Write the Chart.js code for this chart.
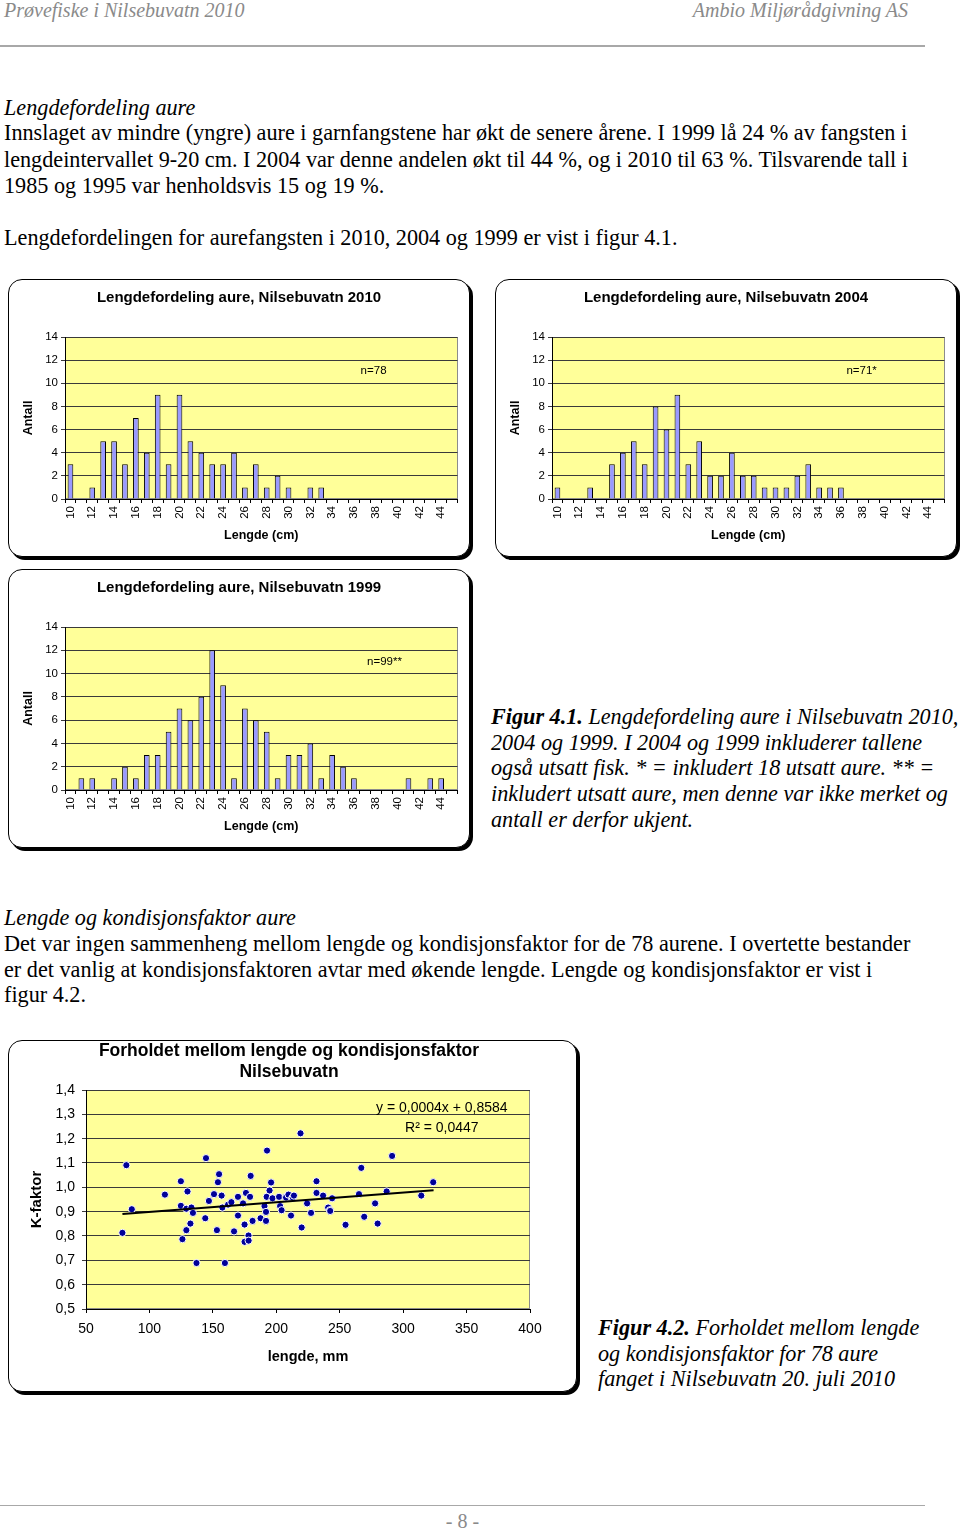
<!DOCTYPE html>
<html><head><meta charset="utf-8">
<script src="https://cdn.jsdelivr.net/npm/chart.js@4.4.1/dist/chart.umd.min.js"></script>
<style>
html,body{margin:0;padding:0;background:#fff}
body{width:960px;height:1531px;position:relative;overflow:hidden;font-family:"Liberation Serif","Times New Roman",serif;}
.t{position:absolute;white-space:nowrap;font-size:22.2px;line-height:26px;color:#000;}
.i{font-style:italic}
.hd{position:absolute;white-space:nowrap;font-size:20px;line-height:24px;color:#8a8a8a;font-style:italic}
.box{position:absolute;border:1px solid #000;border-radius:14px;box-shadow:3px 3px 0 #000;background:#fff;overflow:hidden}
.box canvas{position:absolute;left:0;top:0}
.rule{position:absolute;left:0;width:925px;background:#a8a8a8}
</style></head>
<body>
<div class="hd" style="left:4px;top:-2px">Prøvefiske i Nilsebuvatn 2010</div>
<div class="hd" style="right:52px;top:-2px">Ambio Miljørådgivning AS</div>
<div class="rule" style="top:45px;height:2px"></div>

<div class="t i" style="left:4px;top:95px">Lengdefordeling aure</div>
<div class="t" style="left:4px;top:120px">Innslaget av mindre (yngre) aure i garnfangstene har økt de senere årene. I 1999 lå 24 % av fangsten i</div>
<div class="t" style="left:4px;top:147px">lengdeintervallet 9-20 cm. I 2004 var denne andelen økt til 44 %, og i 2010 til 63 %. Tilsvarende tall i</div>
<div class="t" style="left:4px;top:173px">1985 og 1995 var henholdsvis 15 og 19 %.</div>
<div class="t" style="left:4px;top:225px">Lengdefordelingen for aurefangsten i 2010, 2004 og 1999 er vist i figur 4.1.</div>

<div class="box" style="left:8px;top:279px;width:460px;height:276px"><canvas id="c2010" width="460" height="276"></canvas></div>
<div class="box" style="left:495px;top:279px;width:460px;height:276px"><canvas id="c2004" width="460" height="276"></canvas></div>
<div class="box" style="left:8px;top:569px;width:460px;height:277px"><canvas id="c1999" width="460" height="277"></canvas></div>

<div class="t i" style="left:491px;top:704px"><b>Figur 4.1.</b> Lengdefordeling aure i Nilsebuvatn 2010,</div>
<div class="t i" style="left:491px;top:730px">2004 og 1999. I 2004 og 1999 inkluderer tallene</div>
<div class="t i" style="left:491px;top:755px">også utsatt fisk. * = inkludert 18 utsatt aure. ** =</div>
<div class="t i" style="left:491px;top:781px">inkludert utsatt aure, men denne var ikke merket og</div>
<div class="t i" style="left:491px;top:807px">antall er derfor ukjent.</div>

<div class="t i" style="left:4px;top:905px">Lengde og kondisjonsfaktor aure</div>
<div class="t" style="left:4px;top:931px">Det var ingen sammenheng mellom lengde og kondisjonsfaktor for de 78 aurene. I overtette bestander</div>
<div class="t" style="left:4px;top:957px">er det vanlig at kondisjonsfaktoren avtar med økende lengde. Lengde og kondisjonsfaktor er vist i</div>
<div class="t" style="left:4px;top:982px">figur 4.2.</div>

<div class="box" style="left:8px;top:1040px;width:567px;height:350px"><canvas id="cK" width="567" height="350"></canvas></div>

<div class="t i" style="left:598px;top:1315px"><b>Figur 4.2.</b> Forholdet mellom lengde</div>
<div class="t i" style="left:598px;top:1341px">og kondisjonsfaktor for 78 aure</div>
<div class="t i" style="left:598px;top:1366px">fanget i Nilsebuvatn 20. juli 2010</div>

<div class="rule" style="top:1505px;height:1px"></div>
<div class="hd" style="left:0;width:925px;text-align:center;top:1509px;font-style:normal;font-size:20px">- 8 -</div>

<script>
// ---------- data ----------
const lengthCats = [10,11,12,13,14,15,16,17,18,19,20,21,22,23,24,25,26,27,28,29,30,31,32,33,34,35,36,37,38,39,40,41,42,43,44,45];
const xTickLabels = ['10','12','14','16','18','20','22','24','26','28','30','32','34','36','38','40','42','44'];
const counts2010 = [3,0,1,5,5,3,7,4,9,3,9,5,4,3,3,4,1,3,1,2,1,0,1,1,0,0,0,0,0,0,0,0,0,0,0,0];
const counts2004 = [1,0,0,1,0,3,4,5,3,8,6,9,3,5,2,2,4,2,2,1,1,1,2,3,1,1,1,0,0,0,0,0,0,0,0,0];
const counts1999 = [0,1,1,0,1,2,1,3,3,5,7,6,8,12,9,1,7,6,5,1,3,3,4,1,3,2,1,0,0,0,0,1,0,1,1,0];

const fishLengthMm = [78.7,81.8,86.1,112.2,124.8,124.8,126,130,129.1,129.1,132.3,133.1,134.3,137.1,144,144.6,146.9,150.9,153.2,154,154.9,156.9,157.5,159.5,162,164.6,166.7,169.8,169.8,173.8,175,175,176.1,178.1,178.2,179.3,179.8,181.3,187.6,190.7,191.9,191.9,192.4,192.7,194.7,195.9,197,202.2,203,204.2,207.4,207.7,209.6,211.6,212.5,213,213.9,219.1,220,224.3,227.4,231.7,231.7,236.9,240.9,242.3,242.5,244,254.6,265.2,267,269.3,277.9,279.9,287,291.3,314.3,323.7];
const fishKFactor  = [0.813,1.091,0.910,0.970,1.025,0.924,0.787,0.983,0.912,0.824,0.851,0.917,0.895,0.689,0.873,1.120,0.944,0.972,0.824,1.021,1.054,0.966,0.917,0.689,0.929,0.939,0.819,0.961,0.884,0.934,0.776,0.847,0.977,0.802,0.781,0.961,1.047,0.862,0.873,0.923,0.899,0.862,0.961,1.151,0.987,1.020,0.955,0.961,0.923,0.906,0.961,0.958,0.970,0.884,0.955,0.958,0.966,1.222,0.835,0.934,0.895,1.025,0.977,0.966,0.917,0.906,0.903,0.955,0.846,0.972,1.080,0.879,0.934,0.851,0.983,1.129,0.966,1.021];
const trendLen = [78.7, 324];
const trendK = [0.890, 0.988];
const kTicksMin = 0.5, kTicksMax = 1.4;

// ---------- setup ----------
Chart.defaults.font.family = "'Liberation Sans', Arial, sans-serif";
Chart.defaults.color = '#000';

const plotBg = {
  id: 'plotBg',
  beforeDraw(chart, args, opts) {
    const {ctx, chartArea: a} = chart;
    ctx.save();
    ctx.fillStyle = opts.color || '#FFFF99';
    ctx.fillRect(a.left, a.top, a.width, a.height);
    ctx.strokeStyle = '#8c8c8c';
    ctx.lineWidth = 1;
    ctx.strokeRect(Math.round(a.left) + 0.5, Math.round(a.top) + 0.5, Math.round(a.width) - 1, Math.round(a.height) - 1);
    ctx.restore();
  }
};
const notes = {
  id: 'notes',
  afterDraw(chart, args, opts) {
    if (!opts.items) return;
    const ctx = chart.ctx;
    ctx.save();
    ctx.fillStyle = '#000';
    ctx.textAlign = 'center';
    ctx.textBaseline = 'middle';
    for (const it of opts.items) {
      ctx.font = it.font;
      ctx.fillText(it.text, chart.scales.x.getPixelForValue(it.x), chart.scales.y.getPixelForValue(it.y));
    }
    ctx.restore();
  }
};

function hist(id, title, counts, note, noteX, noteY) {
  new Chart(document.getElementById(id), {
    type: 'bar',
    data: {
      labels: lengthCats.map(String),
      datasets: [{
        data: counts,
        backgroundColor: '#9999FF',
        borderColor: '#000',
        borderWidth: 1,
        barPercentage: 1,
        categoryPercentage: 0.52
      }]
    },
    options: {
      responsive: false, animation: false, devicePixelRatio: 1,
      layout: {padding: 0},
      plugins: {
        legend: {display: false}, tooltip: {enabled: false},
        title: {display: true, text: title, color: '#000',
          font: {size: 15, weight: 'bold'}, padding: {top: 9, bottom: 30}},
        plotBg: {color: '#FFFF99'},
        notes: {items: [{text: note, x: noteX, y: noteY, font: "11.5px 'Liberation Sans', Arial"}]}
      },
      scales: {
        x: {
          grid: {display: true, drawOnChartArea: false, drawTicks: true, tickLength: 4, offset: true, color: '#000'},
          border: {color: '#000'},
          ticks: {autoSkip: false, maxRotation: 90, minRotation: 90, padding: 3, font: {size: 11.5}, color: '#000',
            callback: function(v, i) { const l = this.getLabelForValue(v); return xTickLabels.includes(l) ? l : ''; }},
          title: {display: true, text: 'Lengde (cm)', color: '#000', font: {size: 12.5, weight: 'bold'}, padding: {top: 0, bottom: 13}},
          afterFit: s => { s.height = 57; }
        },
        y: {
          min: 0, max: 14,
          ticks: {stepSize: 2, font: {size: 11.5}, color: '#000', padding: 3},
          grid: {color: '#3a3a3a', tickLength: 4, lineWidth: 1},
          border: {color: '#000'},
          title: {display: true, text: 'Antall', color: '#000', font: {size: 12.5, weight: 'bold'}, padding: {top: 12, bottom: 0}},
          afterFit: s => { s.width = 56; }
        },
        yR: {
          position: 'right', display: true,
          ticks: {display: false}, grid: {display: false, drawTicks: false}, border: {display: false},
          afterFit: s => { s.width = 9; }
        }
      }
    },
    plugins: [plotBg, notes]
  });
}

hist('c2010', 'Lengdefordeling aure, Nilsebuvatn 2010', counts2010, 'n=78', 27.8, 11.1);
hist('c2004', 'Lengdefordeling aure, Nilsebuvatn 2004', counts2004, 'n=71*', 27.9, 11.1);
hist('c1999', 'Lengdefordeling aure, Nilsebuvatn 1999', counts1999, 'n=99**', 28.8, 11.05);

new Chart(document.getElementById('cK'), {
  type: 'scatter',
  data: {
    datasets: [
      {
        type: 'scatter',
        data: fishLengthMm.map((x, i) => ({x, y: fishKFactor[i]})),
        pointRadius: 3.6, pointBackgroundColor: '#000099', pointBorderColor: '#fff', pointBorderWidth: 1,
        order: 1
      },
      {
        type: 'line',
        data: trendLen.map((x, i) => ({x, y: trendK[i]})),
        borderColor: '#000', borderWidth: 2, pointRadius: 0, fill: false,
        order: 0
      }
    ]
  },
  options: {
    responsive: false, animation: false, devicePixelRatio: 1,
    layout: {padding: {left: 0, right: 7, top: 0, bottom: 0}},
    plugins: {
      legend: {display: false}, tooltip: {enabled: false},
      title: {display: true, text: ['Forholdet mellom lengde og kondisjonsfaktor', 'Nilsebuvatn'], color: '#000',
        font: {size: 17.5, weight: 'bold', lineHeight: 1.2}, padding: {top: 0, bottom: 7}},
      plotBg: {color: '#FFFF99'},
      notes: {items: [
        {text: 'y = 0,0004x + 0,8584', x: 330.5, y: 1.326, font: "14px 'Liberation Sans', Arial"},
        {text: 'R² = 0,0447', x: 330.5, y: 1.244, font: "14px 'Liberation Sans', Arial"}
      ]}
    },
    scales: {
      x: {
        type: 'linear', min: 50, max: 400,
        ticks: {stepSize: 50, font: {size: 14}, color: '#000', padding: 8},
        grid: {display: true, drawOnChartArea: false, drawTicks: true, tickLength: 4, color: '#000'},
        border: {color: '#000'},
        title: {display: true, text: 'lengde, mm', color: '#000', font: {size: 14.5, weight: 'bold'}, padding: {top: 0, bottom: 25}},
        afterFit: s => { s.height = 82; }
      },
      y: {
        min: kTicksMin, max: kTicksMax,
        ticks: {stepSize: 0.1, font: {size: 14}, color: '#000', padding: 7,
          callback: v => Number(v).toFixed(1).replace('.', ',')},
        grid: {color: '#3a3a3a', tickLength: 4},
        border: {color: '#000'},
        title: {display: true, text: 'K-faktor', color: '#000', font: {size: 15, weight: 'bold'}, padding: {top: 19, bottom: 0}},
        afterFit: s => { s.width = 77; }
      },
      yR: {
        position: 'right', display: true,
        ticks: {display: false}, grid: {display: false, drawTicks: false}, border: {display: false},
        afterFit: s => { s.width = 39; }
      }
    }
  },
  plugins: [plotBg, notes]
});
</script>
</body></html>
